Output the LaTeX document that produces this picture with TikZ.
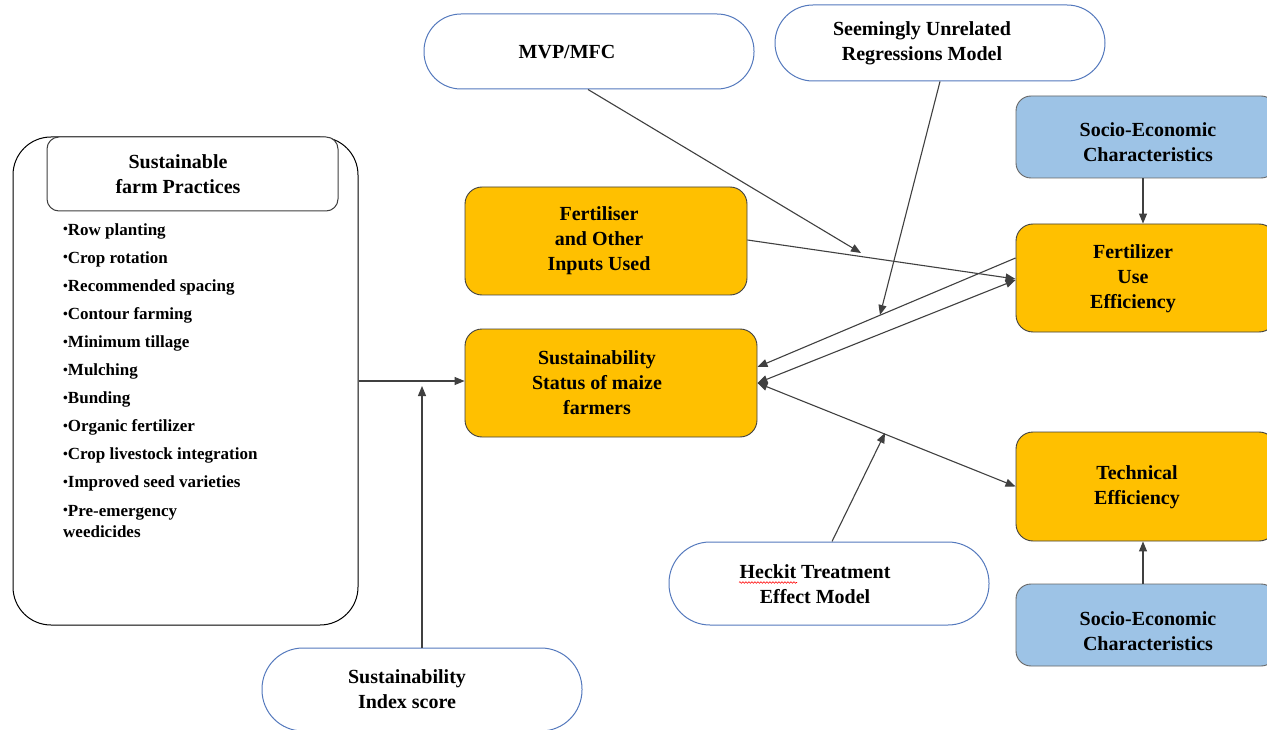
\documentclass[tikz,border=0pt]{standalone}
\usepackage{fontspec}
\setmainfont{Liberation Serif}
\usetikzlibrary{arrows.meta,calc,decorations.pathmorphing}
\definecolor{orangebox}{HTML}{FFC000}
\definecolor{bluebox}{HTML}{9DC3E6}
\definecolor{ovalline}{HTML}{5479BD}
\definecolor{edgegray}{HTML}{404040}
\newcommand{\smbul}{\raisebox{0.15ex}{\scalebox{0.8}{•}}}
\tikzset{
  orangenode/.style={draw=edgegray, line width=0.9pt, fill=orangebox, rounded corners=17pt, inner sep=0pt},
  bluenode/.style={draw=edgegray!80, line width=0.9pt, fill=bluebox, rounded corners=15pt, inner sep=0pt},
  oval/.style={draw=ovalline, line width=1pt, fill=white, inner sep=0pt},
  lbl/.style={font=\fontsize{20}{25}\selectfont\bfseries, align=center, text=black, inner sep=0pt},
  conn/.style={draw=edgegray, line width=1.1pt, -{Triangle[length=10pt,width=8pt]}},
  biconn/.style={draw=edgegray, line width=1.1pt, {Triangle[length=10pt,width=8pt]}-{Triangle[length=10pt,width=8pt]}}
}
\begin{document}
\begin{tikzpicture}[x=1pt,y=-1pt]
\useasboundingbox (0,0) rectangle (1267,730);
\fill[white] (0,0) rectangle (1267,730);

% left big box
\node[draw=black, line width=1pt, rounded corners=38pt, minimum width=345pt, minimum height=488pt, inner sep=0pt] (big) at (185.5,381) {};
\node[draw=edgegray, line width=1pt, fill=white, rounded corners=12pt, minimum width=291pt, minimum height=74pt, inner sep=0pt] (title) at (192.5,174) {};
\node[lbl] (titletxt) at (178,174) {Sustainable\\farm Practices};
\node[font=\fontsize{17}{28.1}\selectfont\bfseries, align=left, anchor=base west, inner sep=0pt] (list) at (63,537)
{\smbul Row planting\\\smbul Crop rotation\\\smbul Recommended spacing\\\smbul Contour farming\\\smbul Minimum tillage\\\smbul Mulching\\\smbul Bunding\\\smbul Organic fertilizer\\\smbul Crop livestock integration\\\smbul Improved seed varieties\\\smbul Pre-emergency\\[-7.1pt]weedicides};

% orange boxes
\node[orangenode, minimum width=282pt, minimum height=108pt] (fert) at (606,241) {};
\node[lbl] (ferttxt) at (599,241) {Fertiliser\\and Other\\Inputs Used};
\node[orangenode, minimum width=292pt, minimum height=108pt] (ss) at (611,383) {};
\node[lbl] (sstxt) at (597,383) {Sustainability\\Status of maize\\farmers};
\node[orangenode, minimum width=260pt, minimum height=108pt] (fue) at (1146,278) {};
\node[lbl] (fuetxt) at (1133,279) {Fertilizer\\Use\\Efficiency};
\node[orangenode, minimum width=260pt, minimum height=109pt] (te) at (1146,486.5) {};
\node[lbl] (tetxt) at (1137,487) {Technical\\Efficiency};

% blue boxes
\node[bluenode, minimum width=260pt, minimum height=82pt] (soc1) at (1146,137) {};
\node[lbl] (soc1txt) at (1148,142.5) {Socio-Economic\\Characteristics};
\node[bluenode, minimum width=260pt, minimum height=82pt] (soc2) at (1146,625) {};
\node[lbl] (soc2txt) at (1148,631.5) {Socio-Economic\\Characteristics};

% ovals
\node[oval, rounded corners=37pt, minimum width=330pt, minimum height=75pt] (mvp) at (589,51.5) {};
\node[lbl] (mvptxt) at (567,52) {MVP/MFC};
\node[oval, rounded corners=38pt, minimum width=330pt, minimum height=76pt] (sur) at (940,43) {};
\node[lbl] (surtxt) at (922,43.5) {Seemingly Unrelated\\Regressions Model};
\node[oval, rounded corners=41pt, minimum width=320pt, minimum height=83pt] (heck) at (829,583.5) {};
\node[lbl] (hecktxt) at (815,584) {Heckit Treatment\\Effect Model};
\draw[red, line width=0.6pt, decorate, decoration={snake, amplitude=0.8pt, segment length=3pt}] (739,582.5) -- (797,582.5);
\node[oval, rounded corners=41pt, minimum width=320pt, minimum height=83pt] (sidx) at (422,689.5) {};
\node[lbl] (sidxtxt) at (407,689) {Sustainability\\Index score};

% junction points on connectors
\coordinate (j1) at (422,386);
\coordinate (j2) at (861,253);
\coordinate (j3) at (880,315);
\coordinate (j4) at (885,433);

% connectors
\draw[conn] (big.east) -- (big.east -| ss.west);
\draw[conn] (sidx.north) -- (j1);
\draw[conn] ([xshift=-1pt]mvp.south) -- (j2);
\draw[conn] ([yshift=1pt]fert.east) -- ([yshift=-1pt]fue.west);
\draw[conn] (sur.south) -- (j3);
\draw[conn] ([yshift=20pt]fue.west) -- ([yshift=16pt]ss.east);
\draw[biconn] (ss.east) -- ([yshift=-2pt]fue.west);
\draw[biconn] (ss.east) -- (te.west);
\draw[conn] ([xshift=3pt]heck.north) -- (j4);
\draw[conn] ([xshift=-3pt]soc1.south) -- ([xshift=-3pt]fue.north);
\draw[conn] ([xshift=-3pt]soc2.north) -- ([xshift=-3pt]te.south);
\end{tikzpicture}
\end{document}
